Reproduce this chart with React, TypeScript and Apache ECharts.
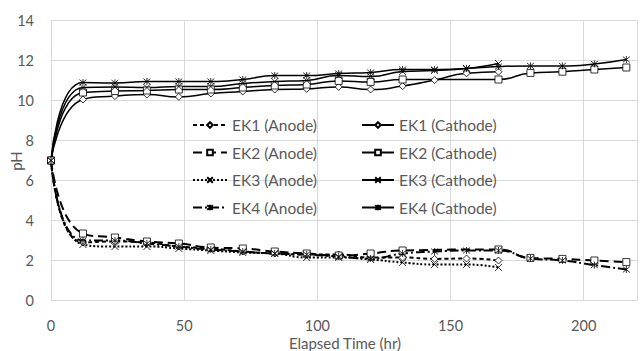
import React, { useEffect, useRef } from "react";
import * as echarts from "echarts";

const times = [0, 12, 24, 36, 48, 60, 72, 84, 96, 108, 120, 132, 144, 156, 168, 180, 192, 204, 216];

const ek1Anode = [7.0, 2.9, 2.95, 2.9, 2.7, 2.6, 2.45, 2.35, 2.3, 2.3, 2.15, 2.15, 2.08, 2.1, 2.0, null, null, null, null];
const ek2Anode = [7.0, 3.35, 3.15, 2.95, 2.85, 2.65, 2.6, 2.45, 2.35, 2.25, 2.35, 2.5, null, null, 2.55, 2.13, 2.08, 2.0, 1.92];
const ek3Anode = [7.0, 2.8, 2.7, 2.7, 2.6, 2.5, 2.4, 2.35, 2.15, 2.15, 2.05, 1.9, 1.8, 1.8, 1.65, null, null, null, null];
const ek4Anode = [7.0, 3.0, 3.0, 2.85, 2.7, 2.55, 2.45, 2.35, 2.3, 2.2, 2.1, 2.35, 2.45, 2.5, 2.5, 2.1, 2.0, 1.77, 1.55];

const ek1Cath = [7.0, 10.05, 10.22, 10.3, 10.18, 10.35, 10.45, 10.55, 10.58, 10.68, 10.55, 10.72, 11.02, 11.36, 11.44, null, null, null, null];
const ek2Cath = [7.0, 10.4, 10.47, 10.5, 10.55, 10.55, 10.65, 10.75, 10.8, 10.98, 10.93, 11.05, null, null, 11.05, 11.38, 11.44, 11.55, 11.65];
const ek3Cath = [7.0, 10.65, 10.68, 10.65, 10.7, 10.7, 10.85, 10.95, 11.0, 11.25, 11.2, 11.45, 11.5, 11.6, 11.85, null, null, null, null];
const ek4Cath = [7.0, 10.9, 10.88, 10.95, 10.95, 10.95, 11.05, 11.25, 11.25, 11.35, 11.4, 11.55, 11.55, 11.6, 11.7, 11.73, 11.73, 11.83, 12.05];

const xTicks = [0, 50, 100, 150, 200];

const SYM_X = "path://M0,0L10,10M10,0L0,10";
const SYM_AST = "path://M0,0L10,10M10,0L0,10M5,-1L5,11";

const pairs = (vals: (number | null)[]) =>
  times.map((t, i) => [t, vals[i]]).filter((p) => p[1] !== null);

const FONT = "Lato, 'Open Sans', sans-serif";
const GRAY = "#595959";

function mk(name: string, vals: (number | null)[], symbol: string, lineType: any, width: number) {
  return {
    name,
    type: "line",
    data: pairs(vals),
    smooth: 0.55,
    symbol,
    symbolSize: 7,
    showAllSymbol: true,
    lineStyle: { color: "#000", width, type: lineType },
    itemStyle: { color: "#fff", borderColor: "#000", borderWidth: 0.8 },
    emphasis: { disabled: true },
  };
}

const legendCommon = {
  orient: "vertical",
  top: 117,
  padding: 0,
  itemHeight: 7,
  itemGap: 11.5,
  textStyle: { color: GRAY, fontSize: 15.5, fontFamily: FONT },
};

export default function App() {
  const ref = useRef<HTMLDivElement>(null);
  useEffect(() => {
    if (!ref.current) return;
    const chart = echarts.init(ref.current, undefined, { renderer: "svg" });
    chart.setOption({
      animation: false,
      backgroundColor: "#fff",
      textStyle: { fontFamily: FONT },
      grid: { left: 51, right: -4, top: 20.5, bottom: 50.5, containLabel: false },
      xAxis: {
        type: "value",
        min: 0,
        max: 220,
        interval: 50,
        axisLine: { show: true, lineStyle: { color: "#d9d9d9", width: 1 } },
        axisTick: { show: false },
        axisLabel: {
          color: GRAY,
          fontSize: 14.5,
          margin: 17,
          fontFamily: FONT,
          formatter: (v: number) => (xTicks.includes(v) ? String(v) : ""),
        },
        splitLine: { show: true, lineStyle: { color: "#d9d9d9", width: 1 } },
      },
      yAxis: {
        type: "value",
        min: 0,
        max: 14,
        interval: 2,
        axisLine: { show: true, lineStyle: { color: "#d9d9d9", width: 1 } },
        axisTick: { show: false },
        axisLabel: { color: GRAY, fontSize: 14.5, margin: 17, fontFamily: FONT },
        splitLine: { show: true, lineStyle: { color: "#d9d9d9", width: 1 } },
      },
      graphic: [
        {
          type: "text",
          x: 345,
          y: 343,
          style: {
            text: "Elapsed Time (hr)",
            fill: GRAY,
            fontSize: 15,
            fontFamily: FONT,
            align: "center",
            verticalAlign: "middle",
          },
        },
        {
          type: "text",
          x: 16,
          y: 161,
          rotation: Math.PI / 2,
          style: {
            text: "pH",
            fill: GRAY,
            fontSize: 15,
            fontFamily: FONT,
            align: "center",
            verticalAlign: "middle",
          },
        },
      ],
      legend: [
        {
          ...legendCommon,
          left: 192,
          itemWidth: 34,
          data: ["EK1 (Anode)", "EK2 (Anode)", "EK3 (Anode)", "EK4 (Anode)"],
        },
        {
          ...legendCommon,
          left: 361,
          itemWidth: 32,
          data: ["EK1 (Cathode)", "EK2 (Cathode)", "EK3 (Cathode)", "EK4 (Cathode)"],
        },
      ],
      series: [
        mk("EK1 (Cathode)", ek1Cath, "diamond", "solid", 1.5),
        mk("EK2 (Cathode)", ek2Cath, "rect", "solid", 1.5),
        mk("EK3 (Cathode)", ek3Cath, SYM_X, "solid", 1.5),
        mk("EK4 (Cathode)", ek4Cath, SYM_AST, "solid", 1.5),
        mk("EK1 (Anode)", ek1Anode, "diamond", [4, 3], 2),
        mk("EK2 (Anode)", ek2Anode, "rect", [9, 5], 2),
        mk("EK3 (Anode)", ek3Anode, SYM_X, [2, 2], 2),
        mk("EK4 (Anode)", ek4Anode, SYM_AST, [9, 3, 2, 3], 2),
      ],
    });
    return () => chart.dispose();
  }, []);
  return (
    <div
      ref={ref}
      style={{ position: "fixed", left: 0, top: 0, width: 640, height: 351, background: "#fff" }}
    />
  );
}
